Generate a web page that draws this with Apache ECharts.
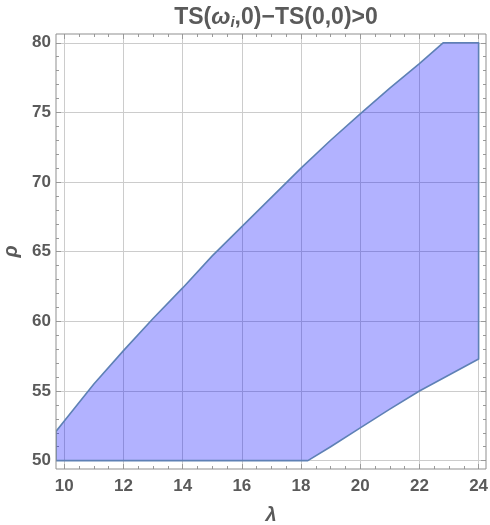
<!DOCTYPE html>
<html>
<head>
<meta charset="utf-8">
<script src="https://cdn.jsdelivr.net/npm/echarts@6/dist/echarts.min.js"></script>
<style>html,body{margin:0;padding:0;background:#fff}#c{width:490px;height:525px}</style>
</head>
<body>
<div id="c"></div>
<script>
// Data
const upperLambda = [9.72, 10, 11, 12, 13, 14, 15, 16, 17, 18, 19, 20, 21, 22, 22.8];
const upperRho    = [52.1, 52.85, 55.5, 57.9, 60.2, 62.4, 64.7, 66.8, 68.9, 71.0, 73.0, 74.9, 76.75, 78.5, 80];
const cornerLambda = [24];
const cornerRho    = [80];
const lowerLambda = [9.72, 18.23, 19, 20, 21, 22, 23, 24];
const lowerRho    = [50, 50, 51.0, 52.35, 53.7, 55.0, 56.15, 57.3];
const xTicksMin = 10, xTicksMax = 24, xTickStep = 2;
const yTicksMin = 50, yTicksMax = 80, yTickStep = 5;
const xMin = 9.72, xMax = 24.25, yMin = 49.4, yMax = 80.63;

const W = 490, H = 525;
const G = {left: 56, right: 4, top: 34, bottom: 56};
const gw = W - G.left - G.right, gh = H - G.top - G.bottom;
const px = v => G.left + (v - xMin) / (xMax - xMin) * gw;
const py = v => G.top + (yMax - v) / (yMax - yMin) * gh;

const polygon = [];
upperLambda.forEach((l, i) => polygon.push([l, upperRho[i]]));
cornerLambda.forEach((l, i) => polygon.push([l, cornerRho[i]]));
for (let i = lowerLambda.length - 1; i >= 0; i--) polygon.push([lowerLambda[i], lowerRho[i]]);

const labelColor = '#5a5a5a';
const tickColor = '#9a9a9a';
const gridColor = '#cccccc';
const font = 'Liberation Sans, Arial, sans-serif';

const chart = echarts.init(document.getElementById('c'), null, {renderer: 'canvas'});
const hidden = {show: false};
const gridBase = {containLabel: false, outerBoundsMode: 'none'};
chart.setOption({
  animation: false,
  backgroundColor: '#fff',
  title: {
    text: 'TS({w|ω}{s|i},0)−TS(0,0)>0',
    left: G.left + gw / 2,
    textAlign: 'center',
    top: 1,
    textStyle: {
      fontFamily: font, fontSize: 23, fontWeight: 'bold', color: labelColor,
      rich: {
        w: {fontFamily: font, fontSize: 23, fontWeight: 'bold', fontStyle: 'italic', color: labelColor},
        s: {fontFamily: font, fontSize: 15, fontWeight: 'bold', fontStyle: 'italic', color: labelColor, padding: [9, 0, 0, 0]}
      }
    }
  },
  grid: [
    Object.assign({left: G.left, right: G.right, top: G.top, bottom: G.bottom, show: true, borderColor: '#8f8f8f', borderWidth: 1, backgroundColor: 'transparent', z: 5}, gridBase),
    Object.assign({left: px(xTicksMin), right: W - px(xTicksMax), top: G.top, bottom: G.bottom}, gridBase),
    Object.assign({left: G.left, right: G.right, top: py(yTicksMax), bottom: H - py(yTicksMin)}, gridBase)
  ],
  xAxis: [
    {gridIndex: 0, type: 'value', min: xMin, max: xMax, axisLine: hidden, axisTick: hidden, axisLabel: hidden, splitLine: hidden,
     name: 'λ', nameLocation: 'middle', nameGap: 36,
     nameTextStyle: {fontFamily: font, fontSize: 20, fontWeight: 'bold', fontStyle: 'italic', color: labelColor}},
    {gridIndex: 1, type: 'value', position: 'bottom', min: xTicksMin, max: xTicksMax, interval: xTickStep,
     axisLine: {show: false, onZero: false},
     axisTick: {show: true, inside: true, length: 5, lineStyle: {color: tickColor}},
     minorTick: {show: true, splitNumber: 4, length: 3, lineStyle: {color: tickColor}},
     axisLabel: {show: true, margin: 9, fontFamily: font, fontSize: 17, fontWeight: 'bold', color: labelColor},
     splitLine: {show: true, lineStyle: {color: gridColor, width: 1}}},
    {gridIndex: 1, type: 'value', position: 'top', min: xTicksMin, max: xTicksMax, interval: xTickStep,
     axisLine: {show: false, onZero: false},
     axisTick: {show: true, inside: true, length: 5, lineStyle: {color: tickColor}},
     minorTick: {show: true, splitNumber: 4, length: 3, lineStyle: {color: tickColor}},
     axisLabel: hidden, splitLine: hidden},
    {gridIndex: 2, type: 'value', min: 0, max: 1, axisLine: {show: false, onZero: false}, axisTick: hidden, axisLabel: hidden, splitLine: hidden}
  ],
  yAxis: [
    {gridIndex: 0, type: 'value', min: yMin, max: yMax, axisLine: hidden, axisTick: hidden, axisLabel: hidden, splitLine: hidden,
     name: 'ρ', nameLocation: 'middle', nameGap: 35, nameRotate: 90,
     nameTextStyle: {fontFamily: font, fontSize: 20, fontWeight: 'bold', fontStyle: 'italic', color: labelColor}},
    {gridIndex: 1, type: 'value', min: 0, max: 1, axisLine: {show: false, onZero: false}, axisTick: hidden, axisLabel: hidden, splitLine: hidden},
    {gridIndex: 2, type: 'value', position: 'left', min: yTicksMin, max: yTicksMax, interval: yTickStep,
     axisLine: {show: false, onZero: false},
     axisTick: {show: true, inside: true, length: 5, lineStyle: {color: tickColor}},
     minorTick: {show: true, splitNumber: 5, length: 3, lineStyle: {color: tickColor}},
     axisLabel: {show: true, margin: 5, fontFamily: font, fontSize: 17, fontWeight: 'bold', color: labelColor},
     splitLine: {show: true, lineStyle: {color: gridColor, width: 1}}},
    {gridIndex: 2, type: 'value', position: 'right', min: yTicksMin, max: yTicksMax, interval: yTickStep,
     axisLine: {show: false, onZero: false},
     axisTick: {show: true, inside: true, length: 5, lineStyle: {color: tickColor}},
     minorTick: {show: true, splitNumber: 5, length: 3, lineStyle: {color: tickColor}},
     axisLabel: hidden, splitLine: hidden}
  ],
  series: [{
    type: 'custom',
    xAxisIndex: 0, yAxisIndex: 0,
    silent: true,
    clip: true,
    data: [[upperLambda[0], upperRho[0]]],
    renderItem: function (params, api) {
      return {
        type: 'polygon',
        shape: {points: polygon.map(p => api.coord(p))},
        style: {fill: 'rgba(0,0,255,0.3)', stroke: '#5e81b5', lineWidth: 1.6, lineJoin: 'round'}
      };
    }
  }]
});
</script>
</body>
</html>
